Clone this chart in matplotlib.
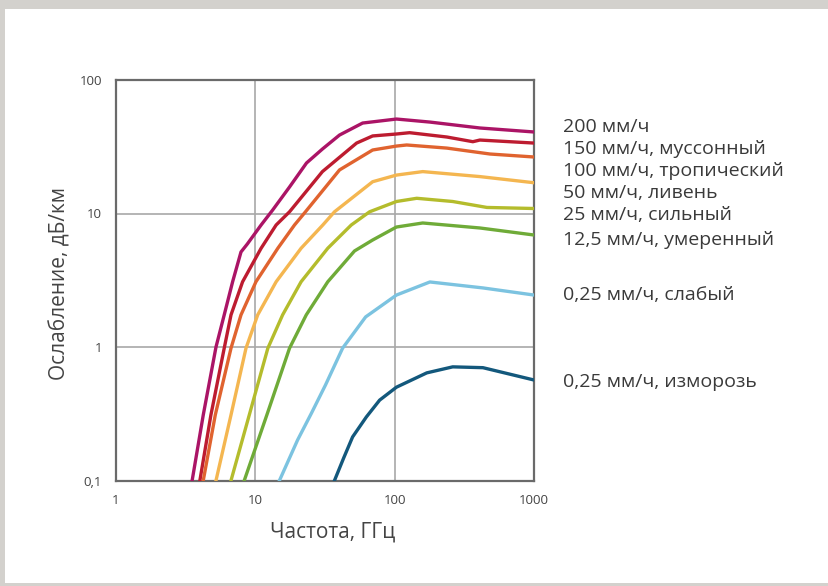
import matplotlib
matplotlib.use('Agg')
import matplotlib.pyplot as plt
from matplotlib.patches import Rectangle

plt.rcParams['font.family'] = ['Open Sans', 'DejaVu Sans']

# частота, ГГц / ослабление, дБ/км
f_200 = [3.52, 4.23, 5.22, 5.98, 6.87, 7.89, 8.76, 11.0, 13.3, 17.6, 23.3, 30.3, 40.2, 58.9, 103, 179, 409, 1000]
a_200 = [0.1, 0.31, 1.0, 1.74, 3.08, 5.15, 5.91, 8.2, 10.6, 15.8, 23.9, 30.4, 38.7, 47.6, 51.0, 48.4, 43.7, 40.8]

f_150 = [4.0, 4.8, 5.98, 6.69, 8.1, 11.0, 14.1, 17.6, 30.3, 53.3, 69.5, 103, 128, 237, 364, 409, 1000]
a_150 = [0.1, 0.31, 0.98, 1.74, 3.08, 5.49, 8.2, 10.3, 20.6, 33.7, 38.1, 39.4, 40.3, 37.4, 34.5, 35.5, 33.7]

f_100 = [4.23, 5.16, 6.69, 7.89, 10.1, 14.5, 19.1, 22.9, 40.2, 69.5, 103, 122, 237, 483, 1000]
a_100 = [0.1, 0.31, 0.98, 1.74, 3.08, 5.49, 8.2, 10.3, 21.2, 29.9, 32.0, 32.6, 30.9, 27.9, 26.5]

f_50 = [5.22, 6.69, 8.57, 10.4, 14.1, 21.3, 30.5, 37.0, 69.5, 103, 159, 409, 1000]
a_50 = [0.1, 0.31, 0.98, 1.74, 3.08, 5.49, 8.2, 10.3, 17.3, 19.4, 20.6, 18.9, 17.0]

f_25 = [6.69, 9.05, 12.3, 15.7, 21.3, 33.1, 48.8, 66.1, 103, 144, 261, 459, 1000]
a_25 = [0.1, 0.31, 0.98, 1.74, 3.08, 5.49, 8.2, 10.3, 12.3, 13.0, 12.3, 11.1, 10.9]

f_12 = [8.33, 12.1, 17.6, 23.2, 33.1, 51.5, 69.5, 103, 159, 409, 1000]
a_12 = [0.1, 0.31, 0.98, 1.74, 3.08, 5.24, 6.33, 7.92, 8.49, 7.79, 6.90]

f_weak = [14.9, 20.1, 25.3, 31.9, 42.3, 61.9, 103, 179, 430, 1000]
a_weak = [0.1, 0.201, 0.32, 0.52, 0.98, 1.68, 2.45, 3.07, 2.77, 2.45]

f_frost = [37.0, 43.0, 49.9, 62.6, 78.0, 103, 170, 261, 430, 1000]
a_frost = [0.1, 0.147, 0.212, 0.299, 0.40, 0.50, 0.64, 0.71, 0.70, 0.566]

labels = ['200 мм/ч', '150 мм/ч, муссонный', '100 мм/ч, тропический', '50 мм/ч, ливень',
          '25 мм/ч, сильный', '12,5 мм/ч, умеренный', '0,25 мм/ч, слабый', '0,25 мм/ч, изморозь']
colors = ['#ab1466', '#bd1c30', '#e0632f', '#f4b650', '#b4bc2c', '#6fab38', '#7cc3e0', '#13587c']
series = [(f_200, a_200), (f_150, a_150), (f_100, a_100), (f_50, a_50),
          (f_25, a_25), (f_12, a_12), (f_weak, a_weak), (f_frost, a_frost)]
label_y = [127, 149, 171, 193, 215, 240, 295, 382]  # пиксели сверху

x_ticks = [1, 10, 100, 1000]
x_ticklabels = ['1', '10', '100', '1000']
y_ticks = [0.1, 1, 10, 100]
y_ticklabels = ['0,1', '1', '10', '100']

W, H = 829, 586
fig = plt.figure(figsize=(W / 100, H / 100), dpi=100, facecolor='#d3d1cd')
fig.patches.append(Rectangle((5 / W, 3 / H), 1, (H - 12) / H, transform=fig.transFigure,
                             facecolor='white', edgecolor='none', zorder=-5))

ax = fig.add_axes([116 / W, 1 - 480.5 / H, 418 / W, 400.5 / H])
ax.set_facecolor('white')
ax.set_zorder(2)

for (f, a), c in zip(series, colors):
    ax.plot(f, a, color=c, lw=2.4, solid_joinstyle='round', clip_on=True, zorder=3)

ax.set_xscale('log')
ax.set_yscale('log')
ax.set_xlim(1, 1000)
ax.set_ylim(0.1, 100)
ax.set_xticks(x_ticks)
ax.set_xticklabels(x_ticklabels)
ax.set_yticks(y_ticks)
ax.set_yticklabels(y_ticklabels)
ax.minorticks_off()
ax.tick_params(length=0, labelsize=9.5, colors='#444444')
ax.tick_params(axis='x', pad=10)
ax.tick_params(axis='y', pad=10)
ax.grid(True, color='#a8a8a8', lw=1.2)
ax.set_axisbelow(True)
for s in ax.spines.values():
    s.set_color('#6a6a6a')
    s.set_linewidth(1.6)

ax.set_xlabel('Частота, ГГц', fontsize=15, color='#444444', va='center')
ax.set_ylabel('Ослабление, дБ/км', fontsize=15, color='#444444', va='center')
ax.xaxis.set_label_coords(0.519, -0.128)
ax.yaxis.set_label_coords(-0.135, 0.493)

for txt, yy in zip(labels, label_y):
    fig.text(563 / W, 1 - yy / H, txt, fontsize=14, color='#3a3a3a', va='center', ha='left')

fig.savefig('out.png', dpi=100, facecolor=fig.get_facecolor())
